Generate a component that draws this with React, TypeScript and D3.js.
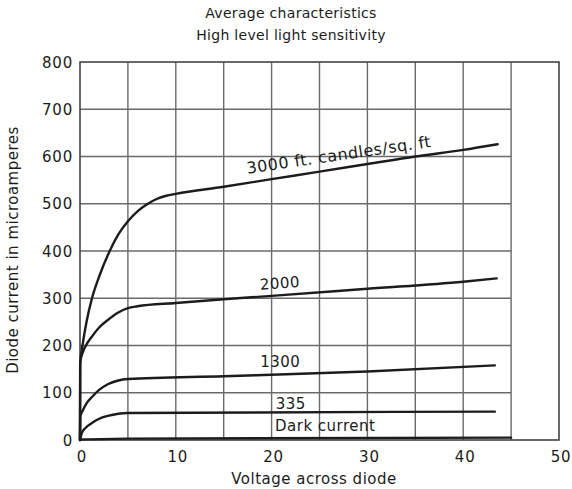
import React from "react";
import * as d3 from "d3";

const curve3000: [number, number][] = [[0,0],[0.02,160],[0.3,205],[0.7,252],[1.25,300],[2,346],[3.1,400],[4,435],[5,463],[6,484],[7,499],[8,510],[9,517],[10,521],[15,536],[20,552],[25,568],[30,584],[35,600],[40,614],[43.6,626]];
const curve2000: [number, number][] = [[0,0],[0.02,165],[0.3,186],[0.7,203],[1.25,219],[2,238],[2.9,254],[4,270],[5,279],[6,283],[10,290],[15,298],[20,305],[30,320],[40,335],[43.5,342]];
const curve1300: [number, number][] = [[0,0],[0.02,48],[0.3,63],[0.7,78],[1.25,91],[2,106],[2.9,118],[4,126],[5,129],[15,135],[30,145],[43.3,158]];
const curve335: [number, number][] = [[0,0],[0.2,15],[0.6,26],[1.25,36],[2,45],[2.9,51],[4,55.5],[5,57],[43.3,60]];
const darkCurrent: [number, number][] = [[0,1],[5,3],[45,5]];

const seriesList = [curve3000, curve2000, curve1300, curve335, darkCurrent];

const labelTexts = ["3000 ft. candles/sq. ft", "2000", "1300", "335", "Dark current"];
const labelV = [27.1, 20.9, 20.9, 22.0, 25.6];
const labelI = [592, 321, 154, 66, 18];
const labelRot = [-8.3, -4, 0, 0, 0];
const labelSize = [16, 15, 15, 15, 15];

const xTicks = [0, 10, 20, 30, 40, 50];
const yTicks = [0, 100, 200, 300, 400, 500, 600, 700, 800];
const xGrid = [5, 10, 15, 20, 25, 30, 35, 40, 45];
const yGrid = [100, 200, 300, 400, 500, 600, 700];

const titleLines = ["Average characteristics", "High level light sensitivity"];
const xTitle = "Voltage across diode";
const yTitle = "Diode current in microamperes";

export default function App() {
  const W = 572, H = 489;
  const x = d3.scaleLinear().domain([0, 50]).range([80, 559]);
  const y = d3.scaleLinear().domain([0, 800]).range([440, 62]);
  const line = d3.line<[number, number]>().x(d => x(d[0])).y(d => y(d[1])).curve(d3.curveMonotoneX);
  const font = "'DejaVu Sans', sans-serif";
  const gridColor = "#6a6a6a";
  const ink = "#1c1c1c";
  return (
    <svg width={W} height={H} style={{ position: "absolute", left: 0, top: 0, background: "#fff" }} fontFamily={font}>
      <rect x={0} y={0} width={W} height={H} fill="#fff" />
      {titleLines.map((t, i) => (
        <text key={t} x={291} y={18 + i * 22} textAnchor="middle" fontSize={14} fill={ink} letterSpacing={0.3}>{t}</text>
      ))}
      {xGrid.map(v => (
        <line key={"vx" + v} x1={x(v)} x2={x(v)} y1={y(0)} y2={y(800)} stroke={gridColor} strokeWidth={1.4} />
      ))}
      {yGrid.map(v => (
        <line key={"hy" + v} x1={x(0)} x2={x(45)} y1={y(v)} y2={y(v)} stroke={gridColor} strokeWidth={1.4} />
      ))}
      <rect x={x(0)} y={y(800)} width={x(50) - x(0)} height={y(0) - y(800)} fill="none" stroke="#444" strokeWidth={1.6} />
      {seriesList.map((s, i) => (
        <path key={"c" + i} d={line(s) || ""} fill="none" stroke={ink} strokeWidth={2.4} strokeLinecap="round" />
      ))}
      {labelTexts.map((t, i) => (
        <text key={t} x={x(labelV[i])} y={y(labelI[i])} textAnchor="middle" fontSize={labelSize[i]} fill={ink}
          letterSpacing={0.5}
          transform={`rotate(${labelRot[i]} ${x(labelV[i])} ${y(labelI[i])})`}>{t}</text>
      ))}
      {yTicks.map(v => (
        <text key={"yt" + v} x={73} y={y(v) + 5.5} textAnchor="end" fontSize={15} fill={ink} letterSpacing={0.8}>{v}</text>
      ))}
      {xTicks.map(v => (
        <text key={"xt" + v} x={x(v) + 2} y={462} textAnchor="middle" fontSize={15} fill={ink} letterSpacing={0.8}>{v}</text>
      ))}
      <text x={314} y={484} textAnchor="middle" fontSize={15} fill={ink} letterSpacing={0.5}>{xTitle}</text>
      <text transform={`translate(18, 250) rotate(-90)`} textAnchor="middle" fontSize={15} fill={ink} letterSpacing={0.5}>{yTitle}</text>
    </svg>
  );
}
